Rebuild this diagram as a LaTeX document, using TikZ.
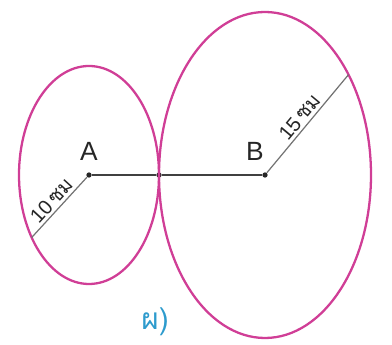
\documentclass[tikz,border=0pt]{standalone}
\usepackage{fontspec}
\setmainfont{Liberation Sans}
\newfontfamily\thaifont[Script=Thai]{Loma}
\usetikzlibrary{positioning}

\definecolor{rim}{RGB}{208,62,150}
\definecolor{tagcol}{RGB}{45,155,205}

\begin{document}
\begin{tikzpicture}[
    ring/.style={draw=rim, line width=1.3pt},
    pt/.style={circle, fill=black!85, inner sep=0pt, minimum size=3pt},
    rad/.style={draw=black!55, line width=0.7pt},
    lbl/.style={font=\fontsize{15}{17}\selectfont, text=black!85},
    len/.style={font=\fontsize{11.5}{13}\selectfont, text=black!85, sloped, above, inner sep=1.5pt}
]
\useasboundingbox (0,0) rectangle (7.84,6.9);

\node[pt] (A) at (1.78,3.4) {};
\node[pt] (T) at (3.18,3.4) {};
\node[pt] (B) at (5.30,3.4) {};

\draw[ring] (A) ellipse [x radius=1.40, y radius=2.18];
\draw[ring] (B) ellipse [x radius=2.12, y radius=3.26];

\path (A) ++(215:1.40 and 2.18) coordinate (a1);
\path (B) ++(38:2.12 and 3.26) coordinate (b1);

\draw[black!75, line width=0.8pt] (A) -- (T) -- (B);
\draw[rad] (a1) -- node[len] {10\,{\thaifont ซม}} (A);
\draw[rad] (B) -- node[len] {15\,{\thaifont ซม}} (b1);

\node[lbl, above=0.1cm of A] (labA) {A};
\node[lbl, above=0.1cm of B, xshift=-0.2cm] (labB) {B};

\node[font=\thaifont\fontsize{17}{19}\selectfont, text=tagcol] (tag) at (3.1,0.46) {ผ)};
\end{tikzpicture}
\end{document}
